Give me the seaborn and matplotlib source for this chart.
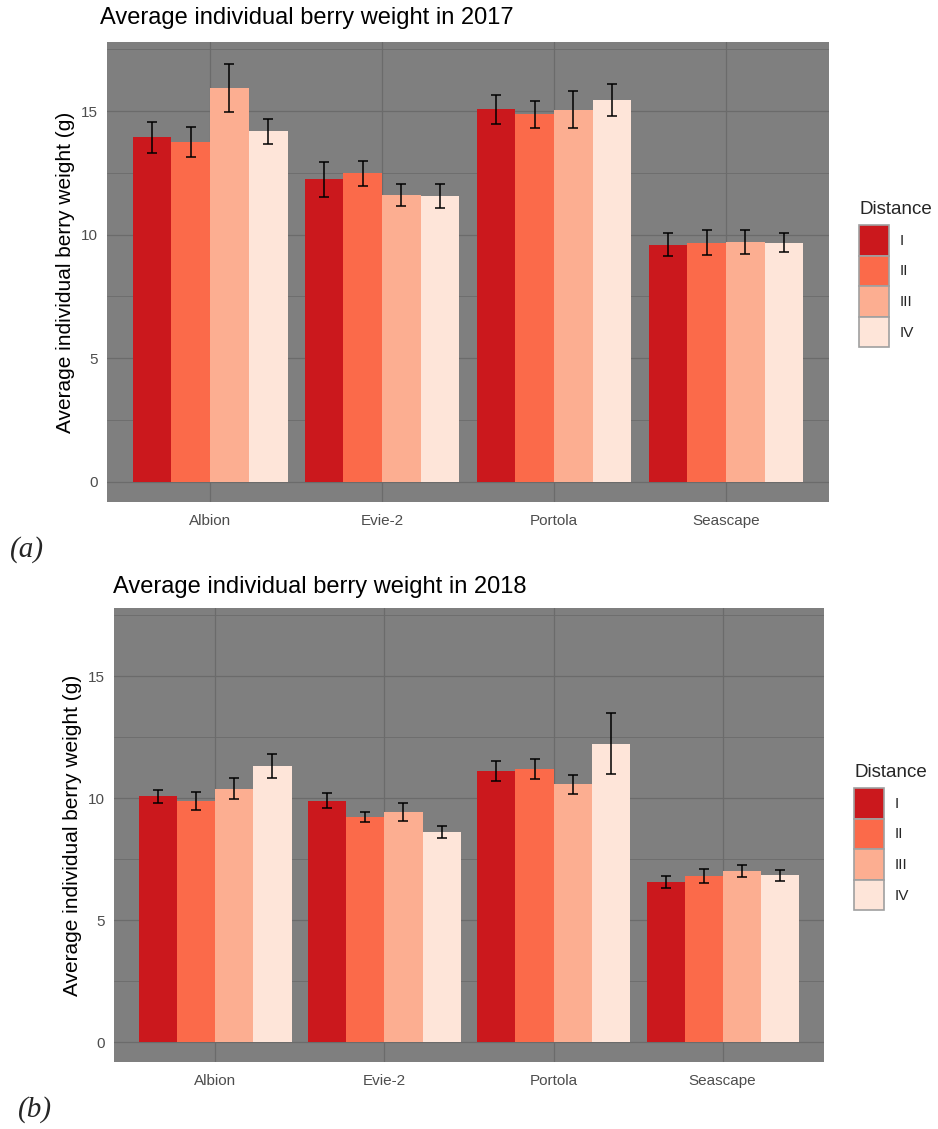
import numpy as np
import pandas as pd
import matplotlib
matplotlib.use("Agg")
import matplotlib.pyplot as plt
from matplotlib.container import BarContainer
import seaborn as sns

cultivars = ["Albion", "Evie-2", "Portola", "Seascape"]
distances = ["I", "II", "III", "IV"]
palette = ["#CB181D", "#FB6A4A", "#FCAE91", "#FEE5D9"]

# mean berry weight (g), rows = cultivar, cols = distance I..IV
mean_2017 = [[13.94, 13.74, 15.94, 14.19],
             [12.24, 12.49, 11.60, 11.57],
             [15.08, 14.87, 15.05, 15.46],
             [9.60, 9.68, 9.70, 9.68]]
err_2017 = [[0.63, 0.60, 0.97, 0.50],
            [0.71, 0.50, 0.44, 0.50],
            [0.58, 0.54, 0.75, 0.65],
            [0.48, 0.50, 0.48, 0.40]]

mean_2018 = [[10.08, 9.89, 10.38, 11.33],
             [9.89, 9.23, 9.43, 8.62],
             [11.11, 11.20, 10.57, 12.24],
             [6.57, 6.81, 7.01, 6.84]]
err_2018 = [[0.27, 0.36, 0.43, 0.50],
            [0.31, 0.20, 0.37, 0.25],
            [0.42, 0.41, 0.39, 1.24],
            [0.24, 0.30, 0.25, 0.23]]

sns.set_theme(style="dark")
plt.rcParams["font.family"] = ["Liberation Sans", "DejaVu Sans"]

W, H = 938, 1129
fig = plt.figure(figsize=(W / 100, H / 100), dpi=100)


def px_axes(left, top, right, bottom):
    return fig.add_axes([left / W, 1 - bottom / H, (right - left) / W, (bottom - top) / H])


def draw_panel(ax, means, errs, title, tx, ty, leg_x, leg_y):
    df = pd.DataFrame([(c, d, means[i][j], errs[i][j])
                       for i, c in enumerate(cultivars)
                       for j, d in enumerate(distances)],
                      columns=["Cultivar", "Distance", "Weight", "SE"])
    sns.barplot(data=df, x="Cultivar", y="Weight", hue="Distance",
                order=cultivars, hue_order=distances, palette=palette,
                errorbar=None, width=0.9, gap=0, saturation=1,
                linewidth=0, ax=ax)
    # error bars placed on the bar centres seaborn produced
    bar_sets = [c for c in ax.containers if isinstance(c, BarContainer)]
    for j, cont in enumerate(bar_sets):
        xs = [b.get_x() + b.get_width() / 2 for b in cont]
        ys = [means[i][j] for i in range(len(cultivars))]
        es = [errs[i][j] for i in range(len(cultivars))]
        ax.errorbar(xs, ys, yerr=es, fmt="none", ecolor="black",
                    elinewidth=1.1, capsize=3.4, capthick=1.1, zorder=5)

    ax.set_facecolor("#7F7F7F")
    ax.set_xlim(-0.6, 3.6)
    ax.set_ylim(-0.82, 17.8)
    ax.set_yticks([0, 5, 10, 15])
    ax.set_yticks([2.5, 7.5, 12.5, 17.5], minor=True)
    ax.grid(True, which="major", color="#6B6B6B", linewidth=0.9)
    ax.grid(True, which="minor", axis="y", color="#6B6B6B", linewidth=0.6)
    ax.set_axisbelow(True)
    for s in ax.spines.values():
        s.set_visible(False)
    ax.tick_params(axis="both", which="major", length=3.5, width=0.8,
                   color="#333333", labelcolor="#4D4D4D", labelsize=11, pad=3)
    ax.tick_params(axis="x", which="major", pad=5)
    ax.tick_params(axis="y", which="minor", length=0)
    ax.set_xlabel("")
    ax.set_ylabel("Average individual berry weight (g)", fontsize=15, color="black")
    fig.text(tx / W, 1 - ty / H, title, fontsize=17, color="black", va="center", ha="left")

    sns.move_legend(ax, "upper left", bbox_to_anchor=(leg_x / W, 1 - leg_y / H),
                    bbox_transform=fig.transFigure, title="Distance", frameon=False,
                    fontsize=11, title_fontsize=13.5, handlelength=1.96,
                    handleheight=2.7, labelspacing=0.0, handletextpad=0.7,
                    borderaxespad=0)
    leg = ax.get_legend()
    leg._legend_box.align = "left"
    leg._legend_box.sep = 5
    for h in leg.legend_handles:
        h.set_edgecolor("#A0A0A0")
        h.set_linewidth(1.2)


ax1 = px_axes(107, 42, 829, 502)
draw_panel(ax1, mean_2017, err_2017, "Average individual berry weight in 2017",
           100, 18, 853, 195)

ax2 = px_axes(114, 608, 824, 1062)
draw_panel(ax2, mean_2018, err_2018, "Average individual berry weight in 2018",
           113, 587, 848, 758)

fig.text(10 / W, 1 - 550 / H, "(a)", fontsize=21, style="italic",
         family=["Liberation Serif", "DejaVu Serif"], va="center", ha="left")
fig.text(18 / W, 1 - 1110 / H, "(b)", fontsize=21, style="italic",
         family=["Liberation Serif", "DejaVu Serif"], va="center", ha="left")

fig.savefig("out.png", dpi=100, facecolor="white")
